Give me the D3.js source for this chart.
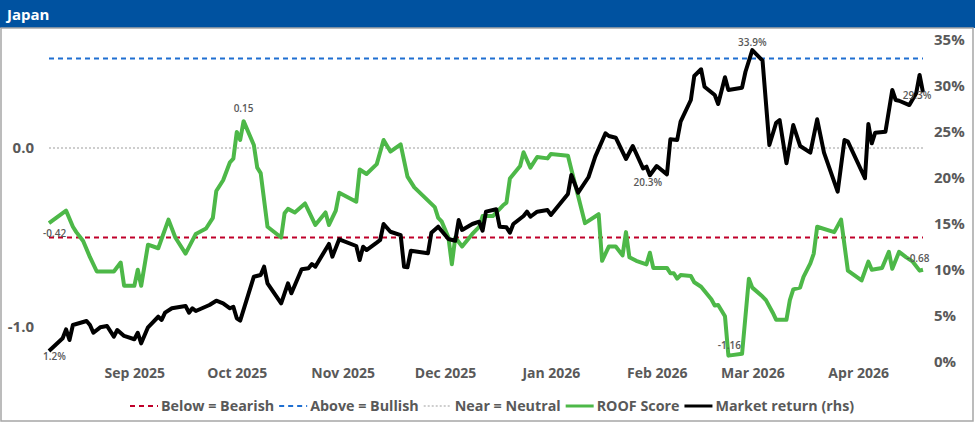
<!DOCTYPE html>
<html>
<head>
<meta charset="utf-8">
<script src="https://cdn.jsdelivr.net/npm/d3@7"></script>
<style>
  body { margin: 0; background: #fff; }
  svg { display: block; font-family: "Open Sans", "Noto Sans", sans-serif; }
</style>
</head>
<body>
<svg id="chart" width="975" height="424"></svg>
<script>
// ROOF score (left axis)
const roofDates = [
  "2025-08-07","2025-08-12","2025-08-14","2025-08-15","2025-08-17","2025-08-19","2025-08-21","2025-08-23",
  "2025-08-26","2025-08-28","2025-08-29","2025-09-01","2025-09-02","2025-09-03","2025-09-05","2025-09-08",
  "2025-09-11","2025-09-13","2025-09-16","2025-09-19","2025-09-22","2025-09-24","2025-09-25","2025-09-27",
  "2025-09-29","2025-09-30","2025-10-01","2025-10-02","2025-10-03","2025-10-06","2025-10-07","2025-10-08",
  "2025-10-10","2025-10-14","2025-10-15","2025-10-16","2025-10-18","2025-10-21","2025-10-22","2025-10-24",
  "2025-10-27","2025-10-28","2025-10-30","2025-10-31","2025-11-05","2025-11-06","2025-11-08","2025-11-11",
  "2025-11-13","2025-11-15","2025-11-18","2025-11-20","2025-11-22","2025-11-28","2025-11-29","2025-11-30",
  "2025-12-02","2025-12-03","2025-12-04","2025-12-06","2025-12-09","2025-12-11","2025-12-12","2025-12-15",
  "2025-12-18","2025-12-19","2025-12-20","2025-12-23","2025-12-24","2025-12-26","2025-12-28","2025-12-31",
  "2026-01-01","2026-01-06","2026-01-07","2026-01-09","2026-01-11","2026-01-15","2026-01-16","2026-01-18",
  "2026-01-20","2026-01-22","2026-01-23","2026-01-24","2026-01-26","2026-01-29","2026-01-30","2026-01-31",
  "2026-02-04","2026-02-05","2026-02-06","2026-02-07","2026-02-08","2026-02-11","2026-02-12","2026-02-14",
  "2026-02-17","2026-02-18","2026-02-19","2026-02-21","2026-02-22","2026-02-26","2026-02-28","2026-03-01",
  "2026-03-04","2026-03-05","2026-03-07","2026-03-08","2026-03-11","2026-03-12","2026-03-13","2026-03-15",
  "2026-03-16","2026-03-18","2026-03-19","2026-03-20","2026-03-25","2026-03-27","2026-03-29","2026-04-02",
  "2026-04-04","2026-04-05","2026-04-08","2026-04-10","2026-04-11","2026-04-13","2026-04-15","2026-04-17",
  "2026-04-19","2026-04-20"
];
const roofValues = [
  -0.42,-0.35,-0.44,-0.47,-0.52,-0.61,-0.69,-0.69,
  -0.69,-0.64,-0.77,-0.77,-0.68,-0.77,-0.54,-0.56,
  -0.40,-0.50,-0.59,-0.48,-0.45,-0.39,-0.24,-0.18,
  -0.08,-0.06,0.09,0.045,0.15,0.017,-0.11,-0.14,
  -0.44,-0.50,-0.365,-0.34,-0.36,-0.31,-0.35,-0.43,
  -0.36,-0.43,-0.35,-0.25,-0.30,-0.12,-0.145,-0.09,
  0.045,-0.02,0.02,-0.16,-0.22,-0.33,-0.39,-0.41,
  -0.50,-0.65,-0.50,-0.55,-0.48,-0.44,-0.38,-0.38,
  -0.32,-0.305,-0.17,-0.10,-0.024,-0.11,-0.05,-0.058,
  -0.034,-0.043,-0.12,-0.27,-0.42,-0.37,-0.63,-0.55,
  -0.55,-0.60,-0.47,-0.61,-0.63,-0.65,-0.585,-0.67,
  -0.67,-0.70,-0.70,-0.73,-0.71,-0.715,-0.75,-0.775,
  -0.845,-0.88,-0.877,-0.94,-1.16,-1.15,-0.73,-0.78,
  -0.83,-0.85,-0.92,-0.96,-0.96,-0.85,-0.79,-0.78,
  -0.72,-0.645,-0.59,-0.44,-0.47,-0.40,-0.685,-0.74,
  -0.635,-0.68,-0.67,-0.58,-0.675,-0.58,-0.61,-0.635,
  -0.685,-0.68
];

// Market return in % (right axis)
const returnDates = [
  "2025-08-07","2025-08-11","2025-08-12","2025-08-13","2025-08-14","2025-08-18","2025-08-19","2025-08-20",
  "2025-08-22","2025-08-24","2025-08-26","2025-08-27","2025-08-29","2025-09-01","2025-09-02","2025-09-03",
  "2025-09-05","2025-09-08","2025-09-09","2025-09-10","2025-09-12","2025-09-16","2025-09-17","2025-09-18",
  "2025-09-19","2025-09-23","2025-09-25","2025-09-27","2025-09-29","2025-09-30","2025-10-01","2025-10-02",
  "2025-10-06","2025-10-08","2025-10-09","2025-10-10","2025-10-14","2025-10-16","2025-10-17","2025-10-20",
  "2025-10-22","2025-10-23","2025-10-24","2025-10-28","2025-10-29","2025-10-31","2025-11-05","2025-11-06",
  "2025-11-07","2025-11-08","2025-11-11","2025-11-12","2025-11-13","2025-11-15","2025-11-18","2025-11-19",
  "2025-11-20","2025-11-21","2025-11-26","2025-11-27","2025-11-29","2025-12-02","2025-12-04","2025-12-05",
  "2025-12-06","2025-12-09","2025-12-11","2025-12-12","2025-12-13","2025-12-16","2025-12-17","2025-12-19",
  "2025-12-20","2025-12-21","2025-12-24","2025-12-25","2025-12-26","2025-12-28","2025-12-31","2026-01-01",
  "2026-01-06","2026-01-07","2026-01-09","2026-01-12","2026-01-14","2026-01-17","2026-01-18","2026-01-20",
  "2026-01-23","2026-01-25","2026-01-28","2026-01-29","2026-01-30","2026-02-01","2026-02-04","2026-02-05",
  "2026-02-07","2026-02-08","2026-02-11","2026-02-12","2026-02-14","2026-02-15","2026-02-18","2026-02-19",
  "2026-02-21","2026-02-22","2026-02-26","2026-02-27","2026-03-01","2026-03-04","2026-03-06","2026-03-08",
  "2026-03-09","2026-03-11","2026-03-13","2026-03-15","2026-03-18","2026-03-20","2026-03-22","2026-03-26",
  "2026-03-28","2026-03-29","2026-04-03","2026-04-04","2026-04-05","2026-04-06","2026-04-09","2026-04-11",
  "2026-04-12","2026-04-13","2026-04-16","2026-04-18","2026-04-19","2026-04-20"
];
const returnValues = [
  1.2,2.58,3.55,2.39,4.02,4.46,4.02,3.18,
  3.77,3.91,2.75,3.48,2.83,2.47,3.18,2.03,
  3.77,4.92,4.57,5.36,5.84,6.09,5.36,5.84,
  5.54,6.20,6.66,6.38,5.84,6.01,4.75,4.49,
  9.27,9.46,10.36,8.55,6.38,8.55,7.47,10.08,
  10.18,10.65,10.36,12.83,11.45,13.34,12.61,11.09,
  12.53,12.17,12.97,13.26,15.0,14.16,13.8,10.36,
  10.29,12.10,11.82,14.05,14.71,13.37,13.18,15.43,
  14.35,15.0,15.25,14.27,16.34,16.6,14.71,14.64,
  14.05,15.0,15.87,16.34,15.79,16.34,16.52,15.98,
  18.26,20.33,18.4,20.08,22.32,24.86,24.57,24.38,
  22.07,23.48,21.05,21.23,20.3,21.3,20.4,24.2,
  24.13,26.12,28.48,31.09,31.82,29.92,29.02,28.04,
  30.95,29.57,29.82,31.55,33.9,32.75,23.59,26.01,
  26.3,21.6,25.76,23.48,22.75,26.38,22.75,18.51,
  24.13,23.95,19.97,25.87,23.77,24.92,25.03,29.57,
  28.48,28.4,27.93,29.2,31.2,29.3
];

// threshold lines on the ROOF scale
const thresholdValues = [-0.5, 0.5, 0];
const thresholdColors = ["#c0002a", "#1f6fd1", "#bfbfbf"];

const leftTicks = [0, -1];
const rightTicks = [0, 5, 10, 15, 20, 25, 30, 35];
const monthTicks = ["2025-09-01","2025-10-01","2025-11-01","2025-12-01","2026-01-01","2026-02-01","2026-03-01","2026-04-01"];
const monthLabels = ["Sep 2025","Oct 2025","Nov 2025","Dec 2025","Jan 2026","Feb 2026","Mar 2026","Apr 2026"];

const roofLabelDates = ["2025-08-07","2025-10-03","2026-02-22","2026-04-20"];
const returnLabelDates = ["2025-08-07","2026-01-30","2026-03-01","2026-04-20"];

const legendLabels = ["Below = Bearish","Above = Bullish","Near = Neutral","ROOF Score","Market return (rhs)"];

const parse = d3.timeParse("%Y-%m-%d");
const textGray = "#595959";
const roofColor = "#4db848";
// plain hyphen instead of d3's unicode minus
const fmt = (spec) => (v) => d3.format(spec)(v).replace("\u2212", "-");

const svg = d3.select("#chart");

// title bar
svg.append("rect").attr("x", 0).attr("y", 0).attr("width", 975).attr("height", 28).attr("fill", "#0052a0");
svg.append("text").attr("x", 7).attr("y", 20).attr("fill", "#fff")
  .attr("font-size", 15).attr("font-weight", 700).text("Japan");

// frame
svg.append("rect").attr("x", 1).attr("y", 28).attr("width", 972).attr("height", 393)
  .attr("fill", "none").attr("stroke", "#a6a6a6").attr("stroke-width", 1.5);

// scales
const x = d3.scaleTime()
  .domain([parse("2025-08-07"), parse("2026-04-20")])
  .range([49, 923]);
const yLeft = d3.scaleLinear().domain([-1, 0]).range([327, 148]);
const yRight = d3.scaleLinear().domain([0, 35]).range([362, 40]);

// threshold lines
svg.append("g").selectAll("line")
  .data(thresholdValues)
  .join("line")
  .attr("x1", x.range()[0]).attr("x2", x.range()[1])
  .attr("y1", d => yLeft(d)).attr("y2", d => yLeft(d))
  .attr("stroke", (d, i) => thresholdColors[i])
  .attr("stroke-width", (d, i) => i === 2 ? 1.5 : 2)
  .attr("stroke-dasharray", (d, i) => i === 2 ? "2,2" : "5,4");

// left axis
svg.append("g")
  .attr("transform", "translate(34,0)")
  .call(d3.axisLeft(yLeft).tickValues(leftTicks).tickSize(0).tickPadding(0).tickFormat(fmt(".1f")))
  .call(g => g.select(".domain").remove())
  .call(g => g.selectAll("text").attr("fill", textGray).attr("font-size", 15).attr("font-weight", 700)
    .attr("font-family", "Open Sans, sans-serif"));

// right axis
svg.append("g")
  .attr("transform", "translate(934,0)")
  .call(d3.axisRight(yRight).tickValues(rightTicks).tickSize(0).tickPadding(0).tickFormat(d => d + "%"))
  .call(g => g.select(".domain").remove())
  .call(g => g.selectAll("text").attr("fill", textGray).attr("font-size", 15).attr("font-weight", 700)
    .attr("font-family", "Open Sans, sans-serif"));

// month axis
svg.append("g")
  .attr("transform", "translate(0,368)")
  .call(d3.axisBottom(x).tickValues(monthTicks.map(parse)).tickSize(0).tickPadding(0)
    .tickFormat((d, i) => monthLabels[i]))
  .call(g => g.select(".domain").remove())
  .call(g => g.selectAll("text").attr("fill", textGray).attr("font-size", 14).attr("font-weight", 700)
    .attr("font-family", "Open Sans, sans-serif"));

// series
const roofData = roofDates.map((d, i) => ({ date: parse(d), value: roofValues[i] }));
const returnData = returnDates.map((d, i) => ({ date: parse(d), value: returnValues[i] }));

svg.append("path")
  .datum(roofData)
  .attr("fill", "none")
  .attr("stroke", roofColor)
  .attr("stroke-width", 4)
  .attr("stroke-linejoin", "round")
  .attr("d", d3.line().x(d => x(d.date)).y(d => yLeft(d.value)));

svg.append("path")
  .datum(returnData)
  .attr("fill", "none")
  .attr("stroke", "#000")
  .attr("stroke-width", 4)
  .attr("stroke-linejoin", "round")
  .attr("d", d3.line().x(d => x(d.date)).y(d => yRight(d.value)));

// data labels
const roofOffsets = [[-6, 14, "start"], [0, -9, "middle"], [1, -7, "middle"], [-5, -8, "middle"]];
const returnOffsets = [[-6, 9, "start"], [-2, 11, "middle"], [0, -4, "middle"], [-6, 7, "middle"]];

const labels = svg.append("g").attr("font-size", 10).attr("font-weight", 600).attr("fill", textGray);
roofLabelDates.forEach((d, i) => {
  const p = roofData.find(r => +r.date === +parse(d));
  labels.append("text")
    .attr("x", x(p.date) + roofOffsets[i][0])
    .attr("y", yLeft(p.value) + roofOffsets[i][1])
    .attr("text-anchor", roofOffsets[i][2])
    .text(fmt(".2f")(p.value));
});
returnLabelDates.forEach((d, i) => {
  const p = returnData.find(r => +r.date === +parse(d));
  labels.append("text")
    .attr("x", x(p.date) + returnOffsets[i][0])
    .attr("y", yRight(p.value) + returnOffsets[i][1])
    .attr("text-anchor", returnOffsets[i][2])
    .text(fmt(".1f")(p.value) + "%");
});

// legend
const legend = svg.append("g").attr("transform", "translate(0,406)");
const swatch = 28;
let lx = 130;
legendLabels.forEach((label, i) => {
  const item = legend.append("g");
  const ln = item.append("line").attr("x1", lx).attr("x2", lx + swatch).attr("y1", 0).attr("y2", 0);
  if (i < 3) {
    ln.attr("stroke", thresholdColors[i]).attr("stroke-width", i === 2 ? 1.5 : 2)
      .attr("stroke-dasharray", i === 2 ? "2,2" : "5,4");
  } else {
    ln.attr("stroke", i === 3 ? roofColor : "#000").attr("stroke-width", 3);
  }
  const t = item.append("text")
    .attr("x", lx + swatch + 3).attr("y", 5)
    .attr("fill", textGray).attr("font-size", 14.3).attr("font-weight", 700)
    .text(label);
  lx += swatch + 3 + t.node().getComputedTextLength() + 5;
});
</script>
</body>
</html>
